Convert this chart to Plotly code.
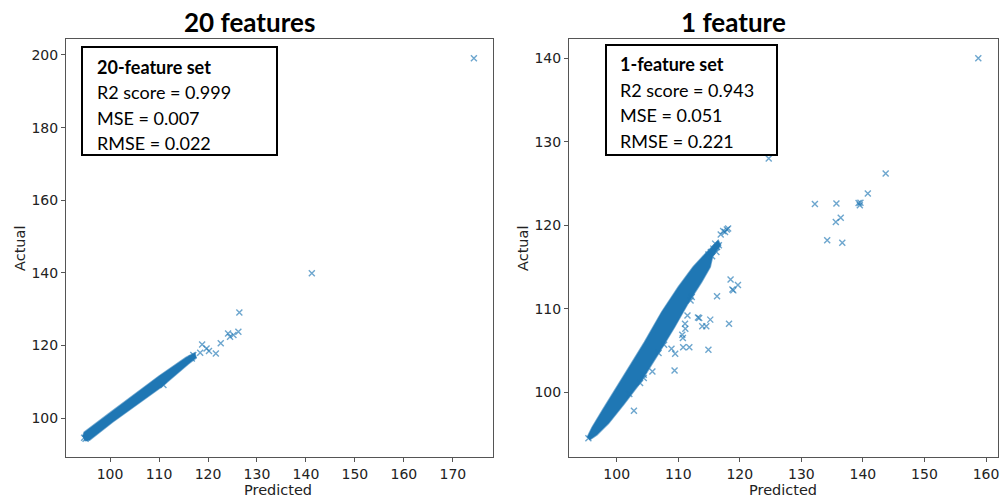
import plotly.graph_objects as go

W, H = 1005, 500

# ---- 20-feature model -------------------------------------------------------
# outline of the dense cloud of (predicted, actual) pairs
band20_pred = [94.4, 94.7, 100.0, 105.0, 110.0, 115.5, 117.3,
               117.6, 116.0, 110.5, 105.0, 100.5, 95.8, 94.8]
band20_actual = [95.0, 96.1, 101.5, 106.6, 111.6, 116.7, 118.0,
                 116.6, 114.9, 108.6, 103.3, 98.9, 93.9, 93.8]
# individual points away from the cloud
pts20_pred = [174.3, 141.2, 126.4, 126.2, 124.1, 124.5, 125.2, 122.6, 121.6,
              118.8, 119.7, 120.2, 118.4, 117.0, 116.7, 110.9, 94.7, 95.0]
pts20_actual = [199.1, 139.9, 129.1, 123.8, 123.3, 122.4, 122.9, 120.6, 117.8,
                120.3, 119.2, 118.5, 118.0, 117.4, 116.4, 109.1, 94.6, 94.3]

# ---- 1-feature model --------------------------------------------------------
band1_pred = [95.2, 96.0, 97.8, 99.7, 102.0, 104.5, 107.3, 110.0, 112.4, 114.0,
              115.3, 116.5, 116.9, 115.6, 115.2, 113.8, 111.8, 109.4, 106.6,
              103.8, 101.2, 98.7, 96.8, 95.6]
band1_actual = [94.6, 95.8, 98.0, 100.2, 103.0, 106.0, 109.6, 112.6, 115.0, 116.3,
                117.3, 118.2, 117.6, 116.3, 115.0, 113.2, 110.9, 107.8, 104.4,
                101.1, 98.6, 96.3, 94.9, 94.3]
pts1_pred = [158.75, 124.7, 143.7, 140.8, 132.2, 135.7, 139.3, 139.5, 139.6,
             135.6, 136.4, 134.2, 136.65,
             118.5, 119.7, 118.95, 118.8, 116.3, 118.25, 115.2, 113.4, 113.2,
             113.9, 114.55, 111.5, 111.1, 111.15, 110.65, 110.75, 110.8, 111.8,
             114.9, 108.9, 109.5, 107.7, 106.8, 109.4, 105.8, 104.4, 104.4,
             103.8, 102.05, 102.8, 112.2, 112.0,
             117.6, 117.9, 118.1, 117.3, 116.9, 116.0, 115.7, 116.3, 115.3,
             115.5, 116.6, 114.9, 116.2, 95.4]
pts1_actual = [140.0, 128.0, 126.2, 123.8, 122.55, 122.6, 122.65, 122.4, 122.7,
               120.4, 120.9, 118.2, 117.9,
               113.5, 112.85, 112.2, 112.3, 111.5, 108.2, 108.7, 108.9, 108.95,
               107.9, 107.9, 109.2, 108.2, 107.6, 106.9, 106.5, 105.4, 105.4,
               105.1, 105.2, 104.6, 105.7, 104.7, 102.6, 102.5, 101.7, 102.1,
               101.1, 99.8, 97.8, 111.4, 111.0,
               119.2, 119.5, 119.6, 119.3, 118.9, 117.8, 117.2, 117.4, 116.8,
               116.3, 117.6, 116.5, 116.8, 94.5]

x_ticks_20 = [100, 110, 120, 130, 140, 150, 160, 170]
y_ticks_20 = [100, 120, 140, 160, 180, 200]
x_ticks_1 = [100, 110, 120, 130, 140, 150, 160]
y_ticks_1 = [100, 110, 120, 130, 140]

titles = ["20 features", "1 feature"]
stats_20 = ["<b>20-feature set</b>", "R2 score = 0.999", "MSE = 0.007", "RMSE = 0.022"]
stats_1 = ["<b>1-feature set</b>", "R2 score = 0.943", "MSE = 0.051", "RMSE = 0.221"]

BLUE = "#1f77b4"
MARK = "rgba(31,119,180,0.65)"

fig = go.Figure()


def add_panel(bp, ba, pp, pa, xa, ya):
    fig.add_trace(go.Scatter(
        x=bp, y=ba, xaxis=xa, yaxis=ya, mode="lines", fill="toself",
        fillcolor=BLUE, line=dict(color="rgba(31,119,180,0.6)", width=1.5),
        hoverinfo="skip", showlegend=False))
    fig.add_trace(go.Scatter(
        x=pp, y=pa, xaxis=xa, yaxis=ya, mode="markers",
        marker=dict(symbol="x-thin", size=6, color=MARK,
                    line=dict(color=MARK, width=1.4)),
        showlegend=False))


add_panel(band20_pred, band20_actual, pts20_pred, pts20_actual, "x", "y")
add_panel(band1_pred, band1_actual, pts1_pred, pts1_actual, "x2", "y2")

axis_style = dict(showgrid=False, zeroline=False, showline=True, mirror=True,
                  linecolor="#555", linewidth=1, ticks="outside", ticklen=4,
                  tickcolor="#555", tickwidth=1,
                  tickfont=dict(family="DejaVu Sans", size=14, color="#222"))

y_dom = [(H - 457) / H, (H - 39) / H]
fig.update_layout(
    width=W, height=H, margin=dict(l=0, r=0, t=0, b=0),
    paper_bgcolor="white", plot_bgcolor="white",
    xaxis=dict(domain=[66 / W, 493 / W], range=[91.0, 178.2],
               tickvals=x_ticks_20, anchor="y", **axis_style),
    yaxis=dict(domain=y_dom, range=[89.3, 204.4],
               tickvals=y_ticks_20, anchor="x", **axis_style),
    xaxis2=dict(domain=[569 / W, 998 / W], range=[92.25, 161.95],
                tickvals=x_ticks_1, anchor="y2", **axis_style),
    yaxis2=dict(domain=y_dom, range=[92.25, 142.3],
                tickvals=y_ticks_1, anchor="x2", **axis_style),
)


def px_x(v):
    return v / W


def px_y(v):
    return 1 - v / H


ann = []
# panel titles
for text, cx in zip(titles, [249, 733]):
    ann.append(dict(text=f"<b>{text}</b>", x=px_x(cx), y=px_y(22),
                    xref="paper", yref="paper", showarrow=False,
                    xanchor="center", yanchor="middle",
                    font=dict(family="Lato", size=26, color="black")))
# axis titles
for cx in [278, 783]:
    ann.append(dict(text="Predicted", x=px_x(cx), y=px_y(490),
                    xref="paper", yref="paper", showarrow=False,
                    xanchor="center", yanchor="middle",
                    font=dict(family="DejaVu Sans", size=14.5, color="#222")))
for cx in [20, 523]:
    ann.append(dict(text="Actual", x=px_x(cx), y=px_y(249), textangle=-90,
                    xref="paper", yref="paper", showarrow=False,
                    xanchor="center", yanchor="middle",
                    font=dict(family="DejaVu Sans", size=14.5, color="#222")))

# statistics boxes
shapes = []
boxes = [
    (stats_20, (82, 47, 277, 155), 95, [67, 92, 117.5, 143]),
    (stats_1, (606, 45, 777, 155), 618, [64, 90, 115.5, 141.5]),
]
for lines, (x0, y0, x1, y1), tx, tys in boxes:
    shapes.append(dict(type="rect", xref="paper", yref="paper",
                       x0=px_x(x0), x1=px_x(x1), y0=px_y(y1), y1=px_y(y0),
                       line=dict(color="black", width=2), fillcolor="white",
                       layer="above"))
    for line, ty in zip(lines, tys):
        ann.append(dict(text=line, x=px_x(tx), y=px_y(ty),
                        xref="paper", yref="paper", showarrow=False,
                        xanchor="left", yanchor="middle",
                        font=dict(family="Lato", size=18, color="black")))

fig.update_layout(annotations=ann, shapes=shapes)
fig.write_html("out.html")
